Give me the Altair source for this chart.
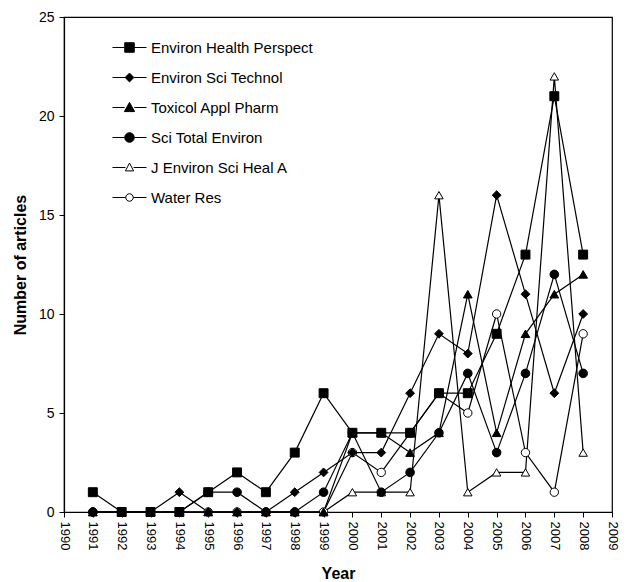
import altair as alt
import pandas as pd

years = list(range(1991, 2009))
series_names = [
    "Environ Health Perspect",
    "Environ Sci Technol",
    "Toxicol Appl Pharm",
    "Sci Total Environ",
    "J Environ Sci Heal A",
    "Water Res",
]
ehp = [1, 0, 0, 0, 1, 2, 1, 3, 6, 4, 4, 4, 6, 6, 9, 13, 21, 13]
est = [0, 0, 0, 1, 0, 0, 0, 1, 2, 3, 3, 6, 9, 8, 16, 11, 6, 10]
tox = [0, 0, 0, 0, 0, 0, 0, 0, 0, 4, 4, 3, 4, 11, 4, 9, 11, 12]
stoten = [0, 0, 0, 0, 1, 1, 0, 0, 1, 4, 1, 2, 4, 7, 3, 7, 12, 7]
jes = [0, 0, 0, 0, 0, 0, 0, 0, 0, 1, 1, 1, 16, 1, 2, 2, 22, 3]
water = [0, 0, 0, 0, 0, 0, 0, 0, 0, 3, 2, 4, 6, 5, 10, 3, 1, 9]
values = [ehp, est, tox, stoten, jes, water]

shapes = ["square", "diamond", "triangle-up", "circle", "triangle-up", "circle"]
fills = ["black", "black", "black", "black", "white", "white"]
sizes = [80, 70, 75, 75, 55, 55]
zorder = [6, 5, 3, 4, 2, 1]

# legend glyphs: marker with a short line through it (unit square -1..1)
legend_shapes = [
    "M-1,0H-0.28M0.28,0H1M-0.28,-0.28H0.28V0.28H-0.28Z",
    "M-1,0H-0.26M0.26,0H1M0,-0.26L0.26,0L0,0.26L-0.26,0Z",
    "M-1,0H-0.28M0.28,0H1M0,-0.3L0.3,0.24H-0.3Z",
    "M-1,0H-0.28M0.28,0H1M-0.28,0A0.28,0.28 0 1,0 0.28,0A0.28,0.28 0 1,0 -0.28,0Z",
    "M-1,0H-0.24M0.24,0H1M0,-0.26L0.24,0.2H-0.24Z",
    "M-1,0H-0.22M0.22,0H1M-0.22,0A0.22,0.22 0 1,0 0.22,0A0.22,0.22 0 1,0 -0.22,0Z",
]

x_ticks = list(range(1990, 2010))
y_ticks = [0, 5, 10, 15, 20, 25]

rows = []
for name, vals, z in zip(series_names, values, zorder):
    for yr, v in zip(years, vals):
        rows.append({"year": yr, "count": v, "series": name, "z": z})
df = pd.DataFrame(rows).sort_values("z")

FONT = "Liberation Sans"

x_enc = alt.X(
    "year:Q",
    scale=alt.Scale(domain=[1990, 2009], nice=False, zero=False),
    axis=alt.Axis(
        values=x_ticks, format="d", labelAngle=90, title="Year",
        titleFontWeight="bold", titleFontSize=16, labelFontSize=13,
        tickSize=5, labelPadding=4, titlePadding=16,
    ),
)
y_enc = alt.Y(
    "count:Q",
    scale=alt.Scale(domain=[0, 25], nice=False),
    axis=alt.Axis(
        values=y_ticks, title="Number of articles",
        titleFontWeight="bold", titleFontSize=16, labelFontSize=14,
        tickSize=5, labelPadding=5, titlePadding=10,
    ),
)

base = alt.Chart(df)
lines = base.mark_line(color="black", strokeWidth=1.2).encode(
    x=x_enc, y=y_enc, detail="series:N"
)
points = base.mark_point(filled=True, stroke="black", strokeWidth=1, opacity=1).encode(
    x=x_enc,
    y=y_enc,
    shape=alt.Shape("series:N", scale=alt.Scale(domain=series_names, range=shapes), legend=None),
    fill=alt.Fill("series:N", scale=alt.Scale(domain=series_names, range=fills), legend=None),
    size=alt.Size("series:N", scale=alt.Scale(domain=series_names, range=sizes), legend=None),
    order=alt.Order("z:Q"),
)
legend_layer = base.transform_filter("false").mark_point(
    filled=True, strokeWidth=1, opacity=1, size=1156
).encode(
    x=x_enc,
    y=y_enc,
    shape=alt.Shape(
        "series:N",
        scale=alt.Scale(domain=series_names, range=legend_shapes),
        legend=alt.Legend(title=None, symbolSize=1156, rowPadding=4),
    ),
    fill=alt.Fill("series:N", scale=alt.Scale(domain=series_names, range=fills),
                  legend=alt.Legend(title=None, rowPadding=4)),
    stroke=alt.Stroke("series:N", scale=alt.Scale(domain=series_names, range=["black"] * 6),
                      legend=alt.Legend(title=None, rowPadding=4)),
)

chart = (
    alt.layer(lines, points, legend_layer)
    .resolve_scale(shape="independent", fill="independent", stroke="independent")
    .properties(width=548, height=495, padding={"left": 4, "top": 2, "right": 4, "bottom": 5})
    .configure(font=FONT)
    .configure_view(stroke="black", strokeWidth=1.2)
    .configure_axis(
        grid=False, domainColor="black", tickColor="black", labelColor="black",
        titleColor="black", labelFont=FONT, titleFont=FONT, domainWidth=1.2,
    )
    .configure_legend(
        orient="none", legendX=48, legendY=13, padding=0, labelFont=FONT, labelFontSize=15,
        labelColor="black", rowPadding=4, symbolStrokeWidth=1,
        symbolOffset=0, labelOffset=4, labelLimit=300,
    )
)

chart.save("out.html", embed_options={"renderer": "svg", "actions": False})
